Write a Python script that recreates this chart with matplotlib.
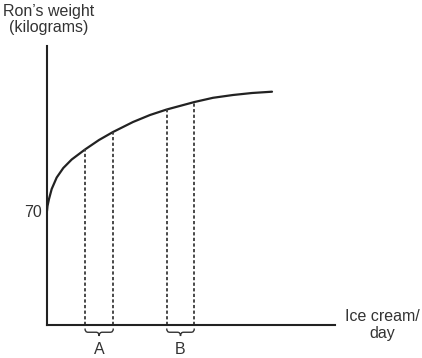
import numpy as np
import matplotlib.pyplot as plt
from matplotlib.path import Path
from matplotlib.patches import PathPatch

plt.rcParams['font.family'] = ['Liberation Sans', 'DejaVu Sans']

# curve (ice cream per day vs. weight, arbitrary units)
ice_cream = [0, 0.5, 2, 4.7, 9.7, 16.3, 24.7, 38, 52, 66, 86, 103, 119.7,
             147.5, 166, 186, 205, 225]
weight = [114, 119, 126, 136, 147.5, 157, 165.5, 175.5, 185, 193, 203, 210,
          215.5, 223, 227.2, 230, 232, 233.3]

# the two intervals marked on the x axis
intervals = {'A': (38, 66.3), 'B': (119.7, 147.3)}
weight_label = '70'

ink = '#222222'
text_col = '#333333'

fig = plt.figure(figsize=(4.22, 3.58), dpi=100)
ax = fig.add_axes([47 / 422, 33 / 358, 288 / 422, 279 / 358])
ax.set_xlim(0, 288)
ax.set_ylim(0, 279)

ax.plot(ice_cream, weight, color=ink, lw=1.6, solid_capstyle='round',
        solid_joinstyle='round')

def brace(ax, x0, x1, ytop, h, r=3):
    mid = (x0 + x1) / 2
    ym = ytop - h / 2
    verts = [(x0, ytop), (x0, ym), (x0 + r, ym),
             (mid - r, ym), (mid, ym), (mid, ytop - h),
             (mid, ym), (mid + r, ym),
             (x1 - r, ym), (x1, ym), (x1, ytop)]
    codes = [Path.MOVETO, Path.CURVE3, Path.CURVE3,
             Path.LINETO, Path.CURVE3, Path.CURVE3,
             Path.CURVE3, Path.CURVE3,
             Path.LINETO, Path.CURVE3, Path.CURVE3]
    p = PathPatch(Path(verts, codes), fill=False, ec=text_col, lw=1.0,
                  clip_on=False)
    ax.add_patch(p)

for name, (xa, xb) in intervals.items():
    for xv in (xa, xb):
        top = np.interp(xv, ice_cream, weight)
        ax.plot([xv, xv], [0, top], color='#3a3a3a', lw=1.3,
                linestyle=(0, (1.8, 1.3)))
    brace(ax, xa, xb, -3.5, 7.5)
    ax.text((xa + xb) / 2, -25, name, ha='center', va='center',
            fontsize=11.5, color=text_col, clip_on=False)

for side in ('top', 'right'):
    ax.spines[side].set_visible(False)
for side in ('left', 'bottom'):
    ax.spines[side].set_linewidth(1.5)
    ax.spines[side].set_color(ink)

ax.set_xticks([])
ax.set_yticks([weight[0]])
ax.set_yticklabels([weight_label], fontsize=11.5, color=text_col)
ax.tick_params(axis='y', length=0, pad=4)

ax.text(1.5, 305.5, 'Ron\u2019s weight\n(kilograms)', ha='center', va='center',
        fontsize=11.5, color=text_col, linespacing=1.15, clip_on=False)
ax.text(335, 0, 'Ice cream/\nday', ha='center', va='center',
        fontsize=11.5, color=text_col, linespacing=1.15, clip_on=False)

fig.savefig('out.png', dpi=100)
